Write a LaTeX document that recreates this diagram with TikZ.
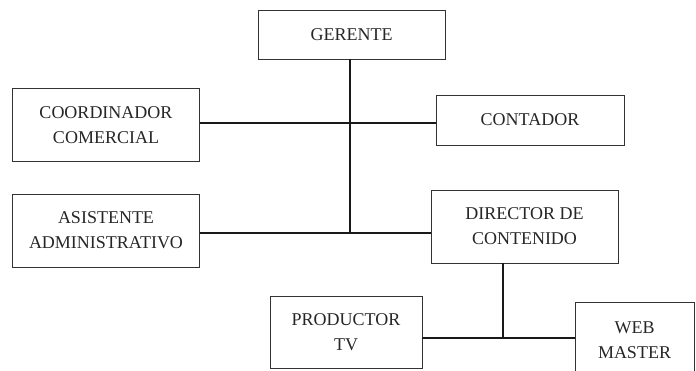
\documentclass[tikz,border=0pt]{standalone}
\usepackage{fontspec}
\setmainfont{Liberation Serif}
\begin{document}
\begin{tikzpicture}[x=1pt,y=-1pt,
  box/.style={draw=black!80, line width=0.9pt, inner sep=0pt, align=center,
    font=\fontsize{18}{25}\selectfont, text=black!85},
  link/.style={line width=2pt, black!90}]
\useasboundingbox (0,0) rectangle (696,370);
\node[box, minimum width=187pt, minimum height=49pt] (ger) at (351.5,34.5) {GERENTE};
\node[box, minimum width=187pt, minimum height=73pt] (coo) at (106,125) {COORDINADOR\\COMERCIAL};
\node[box, minimum width=188pt, minimum height=50pt] (con) at (530,120) {CONTADOR};
\node[box, minimum width=187pt, minimum height=73pt] (asi) at (106,230.5) {ASISTENTE\\ADMINISTRATIVO};
\node[box, minimum width=187pt, minimum height=73pt] (dir) at (524.5,226.5) {DIRECTOR DE\\CONTENIDO};
\node[box, minimum width=152pt, minimum height=72pt] (pro) at (346,332) {PRODUCTOR\\TV};
\node[box, minimum width=119pt, minimum height=76pt] (web) at (634.5,340) {WEB\\MASTER};
\coordinate (j1) at (350,123);
\coordinate (j2) at (350,233);
\coordinate (j3) at (503,338);
\draw[link] (ger.south -| j1) -- (j2);
\draw[link] (coo.east |- j1) -- (con.west |- j1);
\draw[link] (asi.east |- j2) -- (dir.west |- j2);
\draw[link] (dir.south -| j3) -- (j3);
\draw[link] (pro.east |- j3) -- (web.west |- j3);
\end{tikzpicture}
\end{document}
